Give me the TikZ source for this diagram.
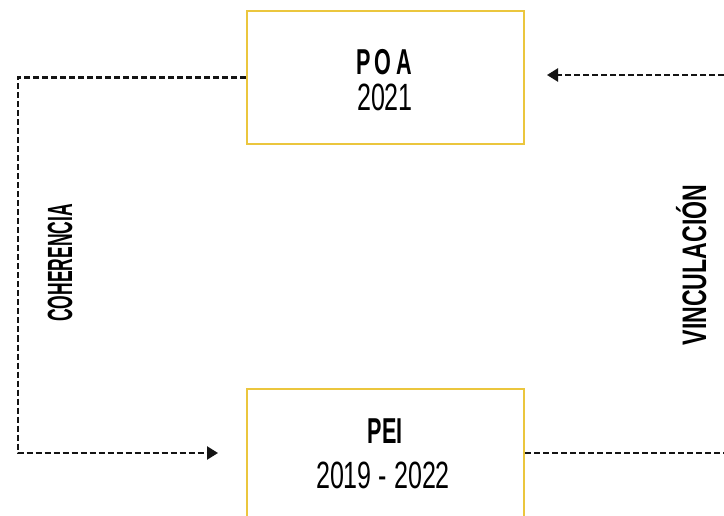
\documentclass[tikz,border=0pt]{standalone}
\usepackage{fontspec}
\setmainfont{Liberation Sans}
\newfontfamily\titlefont[FakeStretch=0.6]{Liberation Sans}
\newfontfamily\cohfont[FakeStretch=0.5]{Liberation Sans}
\newfontfamily\vinfont[FakeStretch=0.68]{Liberation Sans}
\newfontfamily\numfont[FakeStretch=0.66]{Liberation Sans}
\usetikzlibrary{arrows.meta,calc}
\definecolor{boxyellow}{HTML}{EBC63E}
\definecolor{linegray}{HTML}{141414}
\begin{document}
\begin{tikzpicture}[x=1pt,y=-1pt,
  boxnode/.style={draw=boxyellow, line width=2pt, inner sep=0pt, anchor=north west},
  link/.style={draw=linegray, line width=2.3pt, dash pattern=on 6pt off 3pt},
  tip/.style={-{Triangle[length=11pt,width=13pt]}},
  title/.style={font=\titlefont\bfseries\fontsize{36}{36}\selectfont, inner sep=0pt, anchor=base},
  year/.style={font=\numfont\fontsize{38}{38}\selectfont, inner sep=0pt, anchor=base},
  side/.style={inner sep=0pt, rotate=90, anchor=base}]
\useasboundingbox (0,0) rectangle (724,516);
\fill[white] (0,0) rectangle (724,516);
\node[boxnode, minimum width=277pt, minimum height=133pt] (poa) at (246,10) {};
\node[boxnode, minimum width=277pt, minimum height=140pt] (pei) at (246,388) {};
\node[title] (poat) at (384,75) {\addfontfeature{LetterSpace=12}POA};
\node[year] (poay) at (385,111) {2021};
\node[title] (peit) at (385,443) {PEI};
\node[year] (peiy) at (383,488) {2019 - 2022};
\node[side, font=\cohfont\bfseries\fontsize{35}{35}\selectfont] (coh) at (72,263) {COHERENCIA};
\node[side, font=\vinfont\bfseries\fontsize{34}{34}\selectfont] (vin) at (706,265) {VINCULACIÓN};
\coordinate (lcor) at (18,453);
\coordinate (rend) at (724,453);
\coordinate (rtop) at (724,75);
\draw[link,tip] (poa.west) -| (lcor) -- ($(pei.west |- lcor)+(-28,0)$);
\draw[link] (pei.east |- rend) -- (rend);
\draw[link,tip] (rtop) -- ($(poa.east |- rtop)+(22,0)$);
\end{tikzpicture}
\end{document}
